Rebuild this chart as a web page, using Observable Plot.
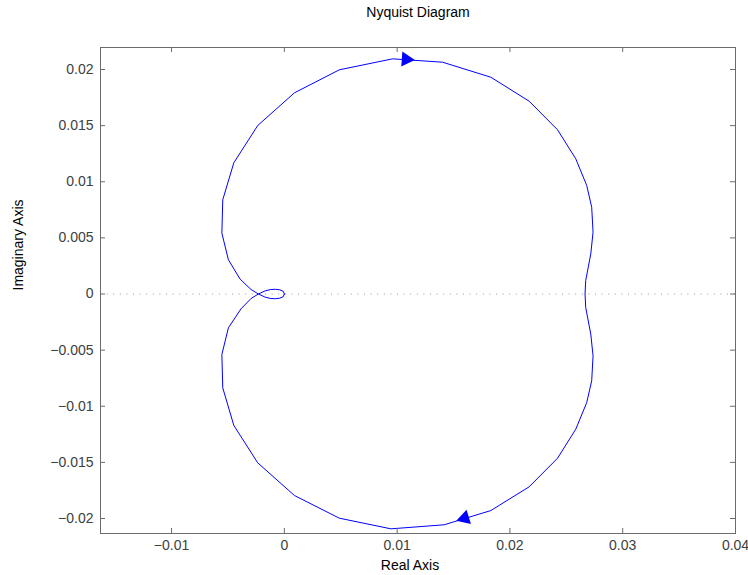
<!DOCTYPE html>
<html>
<head>
<meta charset="utf-8">
<script src="https://cdn.jsdelivr.net/npm/d3@7"></script>
<script src="https://cdn.jsdelivr.net/npm/@observablehq/plot@0.6"></script>
<style>
  html, body { margin: 0; padding: 0; background: #fff; }
  #chart { width: 748px; height: 575px; }
</style>
</head>
<body>
<div id="chart"></div>
<script>
// Negative-frequency branch (upper half), from the origin to the real-axis crossing
const upperRe = [0, -0.0001, -0.0004, -0.0008, -0.0012, -0.0017, -0.0023, -0.00295, -0.00392, -0.00496, -0.00554, -0.00546, -0.00448, -0.00236, 0.00089, 0.00487, 0.0096, 0.01403, 0.01831, 0.0217, 0.02422, 0.02584, 0.02681, 0.02725, 0.02737, 0.02717, 0.02672, 0.02666];
const upperIm = [0, -0.00024, -0.00037, -0.00042, -0.0004, -0.00028, 0, 0.0004, 0.00132, 0.00305, 0.00542, 0.00839, 0.01169, 0.01501, 0.01792, 0.01997, 0.02095, 0.02065, 0.01931, 0.01718, 0.01463, 0.01204, 0.00967, 0.00773, 0.00551, 0.00358, 0.0012, 0];
// Positive-frequency branch (lower half), from the real-axis crossing back to the origin
const lowerRe = [0.02666, 0.02672, 0.02717, 0.02737, 0.02725, 0.02681, 0.02584, 0.02422, 0.0217, 0.01831, 0.01417, 0.00945, 0.00487, 0.00089, -0.00236, -0.00448, -0.00546, -0.00554, -0.00496, -0.00384, -0.00295, -0.0023, -0.0017, -0.0012, -0.0008, -0.0004, -0.0001, 0];
const lowerIm = [0, -0.0012, -0.00358, -0.00551, -0.00773, -0.00967, -0.01204, -0.01463, -0.01718, -0.01929, -0.02056, -0.02092, -0.01997, -0.01795, -0.01504, -0.01171, -0.00836, -0.00539, -0.00301, -0.00132, -0.0004, 0, 0.00028, 0.0004, 0.00042, 0.00037, 0.00024, 0];

// Direction arrows
const arrowRe = [0.0108, 0.01598];
const arrowIm = [0.0209, -0.01997];
const arrowAngle = [94, 253];

// Axes
const xDomain = [-0.0163, 0.04];
const yDomain = [-0.021336, 0.02196];
const xTicks = [-0.01, 0, 0.01, 0.02, 0.03, 0.04];
const xTickLabels = ["\u22120.01", "0", "0.01", "0.02", "0.03", "0.04"];
const yTicks = [-0.02, -0.015, -0.01, -0.005, 0, 0.005, 0.01, 0.015, 0.02];
const yTickLabels = ["\u22120.02", "\u22120.015", "\u22120.01", "\u22120.005", "0", "0.005", "0.01", "0.015", "0.02"];

const titleText = "Nyquist Diagram";
const xLabelText = "Real Axis";
const yLabelText = "Imaginary Axis";

const W = 748, H = 575;
const mL = 100, mR = 13, mT = 47, mB = 42;
const plotW = W - mL - mR, plotH = H - mT - mB;

const curve = upperRe.map((x, i) => ({x, y: upperIm[i]}))
  .concat(lowerRe.map((x, i) => ({x, y: lowerIm[i]})));
const arrows = arrowRe.map((x, i) => ({x, y: arrowIm[i], a: arrowAngle[i]}));

const axisColor = "#6b6b6b";
const labelColor = "#404040";

const chart = Plot.plot({
  width: W,
  height: H,
  marginLeft: mL,
  marginRight: mR,
  marginTop: mT,
  marginBottom: mB,
  style: {
    fontFamily: "'Liberation Sans', Arial, Helvetica, sans-serif",
    fontSize: "14px",
    background: "#fff",
    color: "#000",
    overflow: "visible"
  },
  x: {domain: xDomain, label: null},
  y: {domain: yDomain, label: null},
  marks: [
    Plot.ruleY([0], {stroke: "#9a9a9a", strokeDasharray: "1,5.6", strokeWidth: 1}),
    Plot.line(curve, {x: "x", y: "y", stroke: "#0000ff", strokeWidth: 1}),
    Plot.dot(arrows, {x: "x", y: "y", symbol: "triangle", r: 5.6, fill: "#0000ff", stroke: "none", rotate: "a"}),
    Plot.frame({stroke: axisColor, strokeWidth: 1}),
    Plot.tickX(xTicks, {x: d => d, stroke: axisColor, insetTop: plotH - 5}),
    Plot.tickX(xTicks, {x: d => d, stroke: axisColor, insetBottom: plotH - 5}),
    Plot.tickY(yTicks, {y: d => d, stroke: axisColor, insetRight: plotW - 5}),
    Plot.tickY(yTicks, {y: d => d, stroke: axisColor, insetLeft: plotW - 5}),
    Plot.axisX({ticks: xTicks, tickSize: 0, tickPadding: 7, fill: labelColor,
      tickFormat: d => xTickLabels[xTicks.indexOf(d)], label: null}),
    Plot.axisY({ticks: yTicks, tickSize: 0, tickPadding: 7, fill: labelColor,
      tickFormat: d => yTickLabels[yTicks.indexOf(d)], label: null}),
    Plot.text([titleText], {text: d => d, frameAnchor: "top", lineAnchor: "middle", dy: -35, fill: "#000", fontSize: 14}),
    Plot.text([xLabelText], {text: d => d, frameAnchor: "bottom", lineAnchor: "middle", dy: 32, dx: -8, fill: "#000", fontSize: 14}),
    Plot.text([yLabelText], {text: d => d, frameAnchor: "left", dx: -82, rotate: -90, fill: "#000", fontSize: 14})
  ]
});

document.getElementById("chart").appendChild(chart);
</script>
</body>
</html>
